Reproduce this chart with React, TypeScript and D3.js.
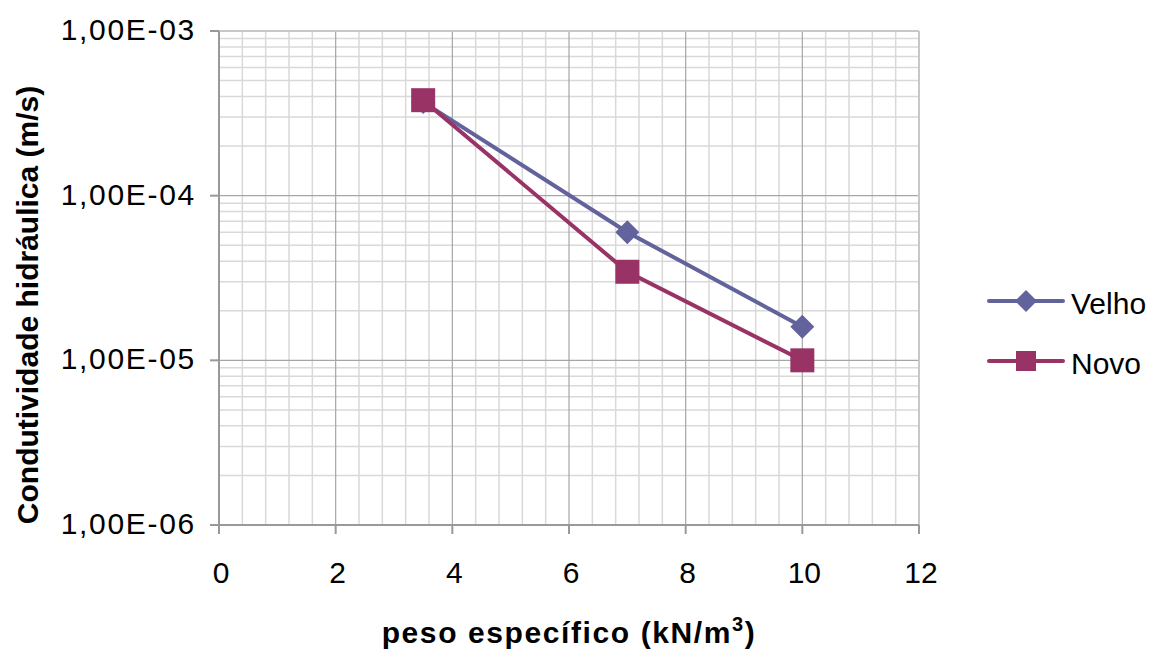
import React from 'react';
import * as d3 from 'd3';

const xValues = [3.5, 7, 10];
const velho = [3.7e-4, 6.0e-5, 1.6e-5];
const novo = [3.8e-4, 3.45e-5, 1.0e-5];
const xTicks = [0, 2, 4, 6, 8, 10, 12];
const yTicks = [1e-6, 1e-5, 1e-4, 1e-3];
const yTickLabels = ['1,00E-06', '1,00E-05', '1,00E-04', '1,00E-03'];

const W = 1156;
const H = 653;
const left = 219;
const right = 919;
const top = 31;
const bottom = 525;
const font = 'Liberation Sans, Arial, sans-serif';

const App = () => {
  const x = d3.scaleLinear().domain([0, 12]).range([left, right]);
  const y = d3.scaleLog().domain([1e-6, 1e-3]).range([bottom, top]);

  const minorX = d3.range(0, 12.001, 0.4).filter(v => Math.abs(v / 2 - Math.round(v / 2)) > 1e-6);
  const minorY: number[] = [];
  [1e-6, 1e-5, 1e-4].forEach(d => {
    for (let k = 2; k <= 9; k++) minorY.push(d * k);
  });

  const line = d3
    .line<number>()
    .x((d, i) => x(xValues[i]))
    .y(d => y(d));

  const series = [
    { name: 'Velho', values: velho, color: '#62629c', marker: 'diamond' },
    { name: 'Novo', values: novo, color: '#993366', marker: 'square' },
  ];

  const marker = (m: string, cx: number, cy: number, color: string, key: string | number, r = 12) =>
    m === 'diamond' ? (
      <path key={key} d={`M${cx},${cy - r}L${cx + r},${cy}L${cx},${cy + r}L${cx - r},${cy}Z`} fill={color} />
    ) : (
      <rect key={key} x={cx - r} y={cy - r} width={2 * r} height={2 * r} fill={color} />
    );

  return (
    <svg width={W} height={H} style={{ position: 'absolute', left: 0, top: 0 }}>
      <rect width={W} height={H} fill="#fff" />
      {minorX.map(v => (
        <line key={'mx' + v} x1={x(v)} x2={x(v)} y1={top} y2={bottom} stroke="#d9d9d9" strokeWidth={1.5} />
      ))}
      {minorY.map(v => (
        <line key={'my' + v} x1={left} x2={right} y1={y(v)} y2={y(v)} stroke="#d9d9d9" strokeWidth={1.5} />
      ))}
      {xTicks.slice(1).map(v => (
        <line key={'gx' + v} x1={x(v)} x2={x(v)} y1={top} y2={bottom} stroke="#a6a6a6" strokeWidth={1.2} />
      ))}
      {yTicks.map(v => (
        <line key={'gy' + v} x1={left} x2={right} y1={y(v)} y2={y(v)} stroke="#a6a6a6" strokeWidth={1.2} />
      ))}
      <line x1={left} x2={right} y1={top} y2={top} stroke="#c8c8c8" strokeWidth={2} />
      <line x1={right} x2={right} y1={top} y2={bottom} stroke="#c8c8c8" strokeWidth={2} />
      <line x1={left} x2={left} y1={top} y2={bottom + 9} stroke="#999" strokeWidth={2} />
      <line x1={left - 9} x2={right} y1={bottom} y2={bottom} stroke="#999" strokeWidth={2} />
      {xTicks.map(v => (
        <line key={'tx' + v} x1={x(v)} x2={x(v)} y1={bottom} y2={bottom + 9} stroke="#999" strokeWidth={2} />
      ))}
      {yTicks.map(v => (
        <line key={'ty' + v} x1={left - 9} x2={left} y1={y(v)} y2={y(v)} stroke="#999" strokeWidth={2} />
      ))}
      {xTicks.map(v => (
        <text key={'lx' + v} x={x(v) + 2} y={583} textAnchor="middle" fontFamily={font} fontSize={30} fill="#000">
          {v}
        </text>
      ))}
      {yTicks.map((v, i) => (
        <text
          key={'ly' + v}
          x={196}
          y={y(v) + 9}
          textAnchor="end"
          fontFamily={font}
          fontSize={30}
          letterSpacing={1.7}
          fill="#000"
        >
          {yTickLabels[i]}
        </text>
      ))}
      {series.map(s => (
        <g key={s.name}>
          <path d={line(s.values) || ''} fill="none" stroke={s.color} strokeWidth={4} />
          {s.values.map((v, i) => marker(s.marker, x(xValues[i]), y(v), s.color, i))}
        </g>
      ))}
      <text
        transform={`translate(38,305) rotate(-90)`}
        textAnchor="middle"
        fontFamily={font}
        fontWeight="bold"
        fontSize={30}
      >
        Condutividade hidráulica (m/s)
      </text>
      <text
        x={569}
        y={643}
        textAnchor="middle"
        fontFamily={font}
        fontWeight="bold"
        fontSize={30}
        letterSpacing={1.6}
      >
        peso específico (kN/m<tspan dy={-12} fontSize={20}>3</tspan>
        <tspan dy={12}>)</tspan>
      </text>
      {series.map((s, i) => {
        const ly = 301 + i * 60;
        return (
          <g key={'leg' + s.name}>
            <line x1={989} x2={1063} y1={ly} y2={ly} stroke={s.color} strokeWidth={4} strokeLinecap="round" />
            {marker(s.marker, 1026, ly, s.color, 'm', s.marker === 'diamond' ? 11 : 10)}
            <text x={1071} y={ly + 13} fontFamily={font} fontSize={30}>
              {s.name}
            </text>
          </g>
        );
      })}
    </svg>
  );
};

export default App;
